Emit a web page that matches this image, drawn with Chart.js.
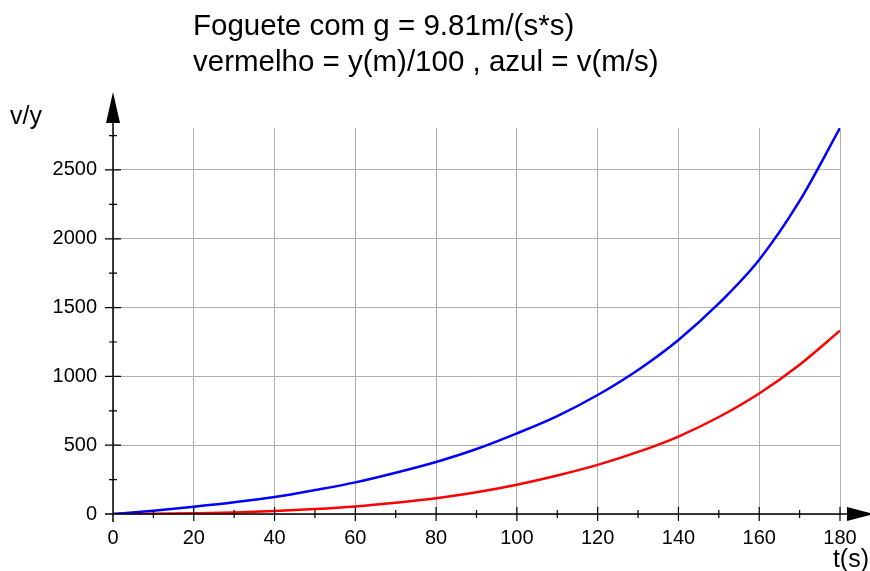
<!DOCTYPE html>
<html>
<head>
<meta charset="utf-8">
<script src="https://cdn.jsdelivr.net/npm/chart.js@4"></script>
<style>
  html, body { margin: 0; padding: 0; background: #fff; }
  #wrap { position: relative; width: 870px; height: 571px; }
</style>
</head>
<body>
<div id="wrap"><canvas id="rocketChart"></canvas></div>
<script>
// tempo (s) e valores
const tempos = [0, 10, 20, 30, 40, 50, 60, 70, 80, 90, 100, 110, 120, 130, 140, 150, 160, 170, 180];
const velocidade = [0, 24, 53, 85, 123, 174, 230, 300, 378, 472, 586, 712, 865, 1047, 1265, 1530, 1848, 2275, 2805];
const altura100 = [0, 1, 5, 11, 22, 36, 55, 82, 115, 158, 213, 280, 357, 451, 563, 705, 876, 1085, 1332];

const xMinorTicks = [10, 30, 50, 70, 90, 110, 130, 150, 170];
const yMinorTicks = [250, 750, 1250, 1750, 2250, 2750];
const xMajorTicks = [0, 20, 40, 60, 80, 100, 120, 140, 160, 180];
const yMajorTicks = [0, 500, 1000, 1500, 2000, 2500];

const tituloLinhas = ['Foguete com g = 9.81m/(s*s)', 'vermelho = y(m)/100 , azul = v(m/s)'];
const rotuloY = 'v/y';
const rotuloX = 't(s)';

const FONT = '"Liberation Sans", Arial, sans-serif';

function toPoints(xs, ys) {
    return xs.map((x, i) => ({ x: x, y: ys[i] }));
}

// eixos com setas, marcas e textos
const axesPlugin = {
    id: 'axesPlugin',
    afterDraw(chart) {
        const ctx = chart.ctx;
        const xs = chart.scales.x;
        const ys = chart.scales.y;
        const x0 = xs.getPixelForValue(0);
        const y0 = ys.getPixelForValue(0);
        const right = xs.getPixelForValue(180);
        ctx.save();
        ctx.strokeStyle = '#000';
        ctx.fillStyle = '#000';
        ctx.lineWidth = 1.5;

        // eixo y
        ctx.beginPath();
        ctx.moveTo(x0, y0 + 8);
        ctx.lineTo(x0, 120);
        ctx.stroke();
        ctx.beginPath();
        ctx.moveTo(x0, 92);
        ctx.lineTo(x0 - 7, 123);
        ctx.lineTo(x0 + 7, 123);
        ctx.closePath();
        ctx.fill();

        // eixo x
        ctx.beginPath();
        ctx.moveTo(x0 - 8, y0);
        ctx.lineTo(right + 10, y0);
        ctx.stroke();
        ctx.beginPath();
        ctx.moveTo(874, y0);
        ctx.lineTo(847, y0 - 7);
        ctx.lineTo(847, y0 + 7);
        ctx.closePath();
        ctx.fill();

        ctx.lineWidth = 1.2;
        ctx.beginPath();
        xMajorTicks.forEach(v => {
            if (v === 0) return;
            const p = xs.getPixelForValue(v);
            ctx.moveTo(p, y0 - 7);
            ctx.lineTo(p, y0 + 7);
        });
        xMinorTicks.forEach(v => {
            const p = xs.getPixelForValue(v);
            ctx.moveTo(p, y0 - 4);
            ctx.lineTo(p, y0 + 4);
        });
        yMajorTicks.forEach(v => {
            if (v === 0) return;
            const p = ys.getPixelForValue(v);
            ctx.moveTo(x0 - 8, p);
            ctx.lineTo(x0 + 8, p);
        });
        yMinorTicks.forEach(v => {
            const p = ys.getPixelForValue(v);
            ctx.moveTo(x0 - 4, p);
            ctx.lineTo(x0 + 4, p);
        });
        ctx.stroke();

        // textos
        ctx.font = '29.5px ' + FONT;
        ctx.textAlign = 'left';
        ctx.textBaseline = 'alphabetic';
        ctx.fillText(tituloLinhas[0], 193, 35);
        ctx.fillText(tituloLinhas[1], 193, 71);

        ctx.font = '25px ' + FONT;
        ctx.fillText(rotuloY, 10, 124);
        ctx.textAlign = 'right';
        ctx.fillText(rotuloX, 869, 567);
        ctx.restore();
    }
};

new Chart(document.getElementById('rocketChart'), {
    type: 'line',
    data: {
        datasets: [
            {
                label: 'v(m/s)',
                data: toPoints(tempos, velocidade),
                borderColor: '#0000ff',
                borderWidth: 2.5,
                pointRadius: 0,
                cubicInterpolationMode: 'monotone',
                fill: false
            },
            {
                label: 'y(m)/100',
                data: toPoints(tempos, altura100),
                borderColor: '#ff0000',
                borderWidth: 2.5,
                pointRadius: 0,
                cubicInterpolationMode: 'monotone',
                fill: false
            }
        ]
    },
    options: {
        responsive: true,
        maintainAspectRatio: false,
        animation: false,
        layout: { padding: { top: 128, right: 30, left: 0, bottom: 0 } },
        scales: {
            x: {
                type: 'linear',
                min: 0,
                max: 180,
                afterFit: s => { s.height = 57; },
                afterBuildTicks: s => { s.ticks = xMajorTicks.map(v => ({ value: v })); },
                border: { display: false },
                grid: { color: '#b0b0b0', lineWidth: 1, drawTicks: false },
                ticks: {
                    padding: 12,
                    color: '#000',
                    maxRotation: 0,
                    autoSkip: false,
                    callback: v => String(v),
                    font: { family: FONT, size: 20 }
                }
            },
            y: {
                type: 'linear',
                min: 0,
                max: 2805,
                afterFit: s => { s.width = 113; },
                afterBuildTicks: s => { s.ticks = yMajorTicks.map(v => ({ value: v })); },
                border: { display: false },
                grid: { color: '#b0b0b0', lineWidth: 1, drawTicks: false },
                ticks: {
                    padding: 16,
                    color: '#000',
                    autoSkip: false,
                    callback: v => String(v),
                    font: { family: FONT, size: 20 }
                }
            }
        },
        plugins: {
            legend: { display: false },
            tooltip: { enabled: false },
            title: { display: false }
        }
    },
    plugins: [axesPlugin]
});
</script>
</body>
</html>
